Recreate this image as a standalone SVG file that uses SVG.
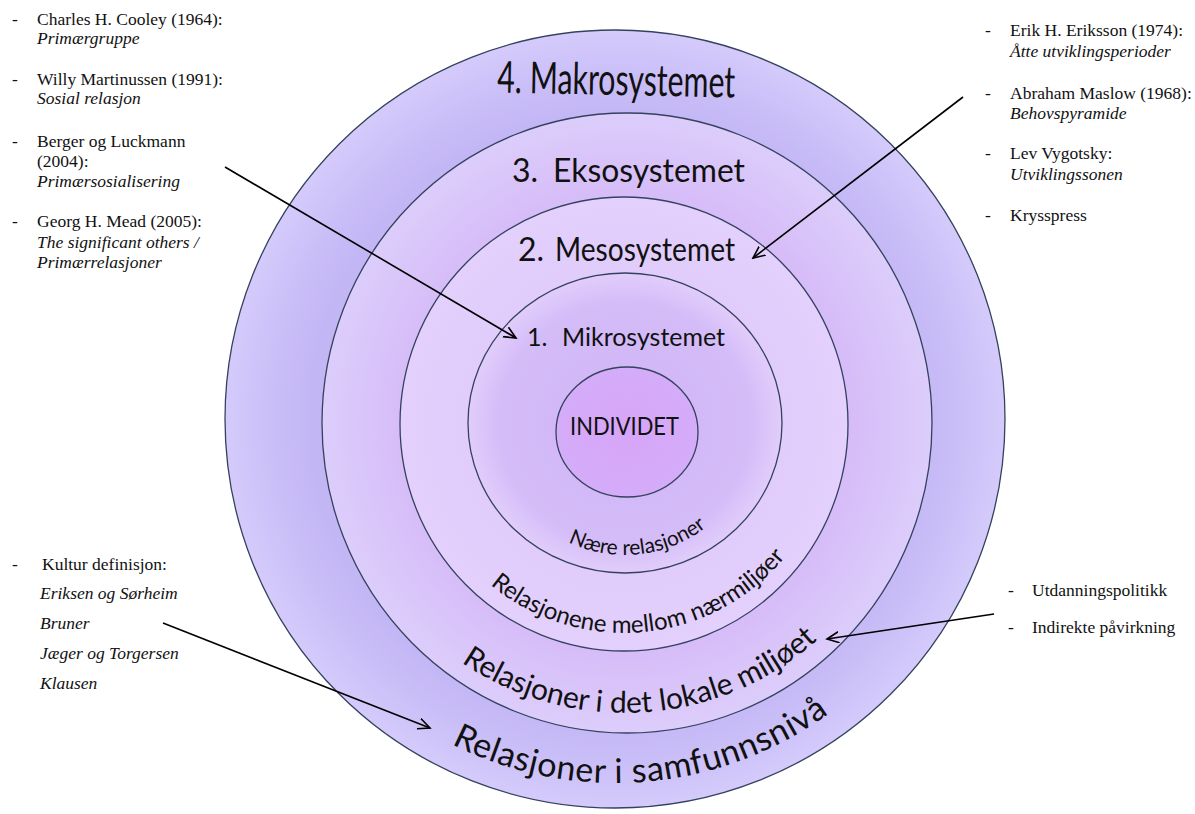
<svg xmlns="http://www.w3.org/2000/svg" width="1195" height="814" viewBox="0 0 1195 814">
<style>
.ring{stroke:#34425e;stroke-width:1.3}
.lbl{font-family:Lato,"Open Sans","DejaVu Sans",sans-serif;fill:#111}
.ref{font-family:"Liberation Serif","Times New Roman",serif;font-size:17.5px;fill:#111}
.it{font-style:italic}
.conn{stroke:#000;stroke-width:1.6;fill:none}
</style>
<defs>
<radialGradient id="g4"><stop offset="0.78" stop-color="#c3b6f5"/><stop offset="0.88" stop-color="#cabef8"/><stop offset="1" stop-color="#d4cbfb"/></radialGradient>
<radialGradient id="g3"><stop offset="0.72" stop-color="#d6bbf8"/><stop offset="0.86" stop-color="#d9c4f9"/><stop offset="1" stop-color="#dccdfb"/></radialGradient>
<radialGradient id="g2"><stop offset="0.6" stop-color="#e0cbfc"/><stop offset="1" stop-color="#e3d0fc"/></radialGradient>
<radialGradient id="g1"><stop offset="0.44" stop-color="#d2b8f7"/><stop offset="0.8" stop-color="#d4bcf8"/><stop offset="1" stop-color="#e1cdfb"/></radialGradient>
<radialGradient id="g0"><stop offset="0" stop-color="#d7a5f9"/><stop offset="1" stop-color="#d4acf8"/></radialGradient>
<path id="p-naere" d="M493,423 A132,132 0 0 0 757,423"/>
<path id="p-mellom" d="M415,424 A209,209 0 0 0 833,424"/>
<path id="p-lokale" d="M335,423 A290,290 0 0 0 915,423"/>
<path id="p-samf" d="M251,419 A364,364 0 0 0 979,419"/>
<marker id="arr" markerWidth="14" markerHeight="14" refX="12" refY="6" orient="auto" markerUnits="userSpaceOnUse"><path d="M0,0.5 L12,6 L0,11.5" fill="none" stroke="#000" stroke-width="1.6"/></marker>
</defs>

<g id="makrosystemet">
<ellipse class="ring" cx="615" cy="419" rx="390" ry="389" fill="url(#g4)"/>
<text class="lbl" x="497" y="95" font-size="44" textLength="238" lengthAdjust="spacingAndGlyphs" transform="rotate(1.2 616 95)">4. Makrosystemet</text>
<text class="lbl" font-size="34" letter-spacing="0.6"><textPath href="#p-samf" startOffset="52.6%" text-anchor="middle">Relasjoner i samfunnsnivå</textPath></text>
</g>

<g id="eksosystemet">
<ellipse class="ring" cx="627" cy="423" rx="305" ry="310" fill="url(#g3)"/>
<text class="lbl" y="182" font-size="32"><tspan x="512">3.</tspan><tspan x="553" textLength="192" lengthAdjust="spacingAndGlyphs">Eksosystemet</tspan></text>
<text class="lbl" font-size="30"><textPath href="#p-lokale" startOffset="52%" text-anchor="middle">Relasjoner  i det lokale miljøet</textPath></text>
</g>

<g id="mesosystemet">
<ellipse class="ring" cx="624" cy="424" rx="224" ry="227" fill="url(#g2)"/>
<text class="lbl" y="261" font-size="32"><tspan x="518">2.</tspan><tspan x="555" textLength="180" lengthAdjust="spacingAndGlyphs">Mesosystemet</tspan></text>
<text class="lbl" font-size="24"><textPath href="#p-mellom" startOffset="53%" text-anchor="middle">Relasjonene mellom nærmiljøer</textPath></text>
</g>

<g id="mikrosystemet">
<ellipse class="ring" cx="625" cy="423" rx="157" ry="150" fill="url(#g1)"/>
<text class="lbl" y="346" font-size="25"><tspan x="527">1.</tspan><tspan x="562" textLength="163" lengthAdjust="spacingAndGlyphs">Mikrosystemet</tspan></text>
<text class="lbl" font-size="21"><textPath href="#p-naere" startOffset="53.5%" text-anchor="middle">Nære relasjoner</textPath></text>
</g>

<g id="individet">
<ellipse class="ring" cx="627" cy="432" rx="71" ry="65" fill="url(#g0)"/>
<text class="lbl" x="570" y="435" font-size="25" textLength="109" lengthAdjust="spacingAndGlyphs">INDIVIDET</text>
</g>

<g id="refs-mikro">
<text class="ref" x="12" y="25">-</text>
<text class="ref" x="37" y="25">Charles H. Cooley (1964):</text>
<text class="ref it" x="37" y="44">Primærgruppe</text>
<text class="ref" x="12" y="85">-</text>
<text class="ref" x="37" y="85">Willy Martinussen (1991):</text>
<text class="ref it" x="37" y="104">Sosial relasjon</text>
<text class="ref" x="12" y="147">-</text>
<text class="ref" x="37" y="147">Berger og Luckmann</text>
<text class="ref" x="37" y="167">(2004):</text>
<text class="ref it" x="37" y="187">Primærsosialisering</text>
<text class="ref" x="12" y="227">-</text>
<text class="ref" x="37" y="227">Georg H. Mead (2005):</text>
<text class="ref it" x="37" y="248">The significant others /</text>
<text class="ref it" x="37" y="268">Primærrelasjoner</text>
</g>

<g id="refs-meso">
<text class="ref" x="985" y="36">-</text>
<text class="ref" x="1010" y="36">Erik H. Eriksson (1974):</text>
<text class="ref it" x="1010" y="57">Åtte utviklingsperioder</text>
<text class="ref" x="985" y="99">-</text>
<text class="ref" x="1010" y="99">Abraham Maslow (1968):</text>
<text class="ref it" x="1010" y="119">Behovspyramide</text>
<text class="ref" x="985" y="159">-</text>
<text class="ref" x="1010" y="159">Lev Vygotsky:</text>
<text class="ref it" x="1010" y="180">Utviklingssonen</text>
<text class="ref" x="985" y="221">-</text>
<text class="ref" x="1010" y="221">Krysspress</text>
</g>

<g id="refs-makro">
<text class="ref" x="12" y="570">-</text>
<text class="ref" x="42" y="570">Kultur definisjon:</text>
<text class="ref it" x="40" y="599">Eriksen og Sørheim</text>
<text class="ref it" x="40" y="629">Bruner</text>
<text class="ref it" x="40" y="659">Jæger og Torgersen</text>
<text class="ref it" x="40" y="689">Klausen</text>
</g>

<g id="refs-ekso">
<text class="ref" x="1008" y="596">-</text>
<text class="ref" x="1032" y="596">Utdanningspolitikk</text>
<text class="ref" x="1008" y="633">-</text>
<text class="ref" x="1032" y="633">Indirekte påvirkning</text>
</g>

<g id="connectors">
<line class="conn" x1="225" y1="167" x2="516" y2="338" marker-end="url(#arr)"/>
<line class="conn" x1="963" y1="97" x2="753" y2="258" marker-end="url(#arr)"/>
<line class="conn" x1="163" y1="623" x2="430" y2="728" marker-end="url(#arr)"/>
<line class="conn" x1="994" y1="614" x2="827" y2="639" marker-end="url(#arr)"/>
</g>
</svg>
